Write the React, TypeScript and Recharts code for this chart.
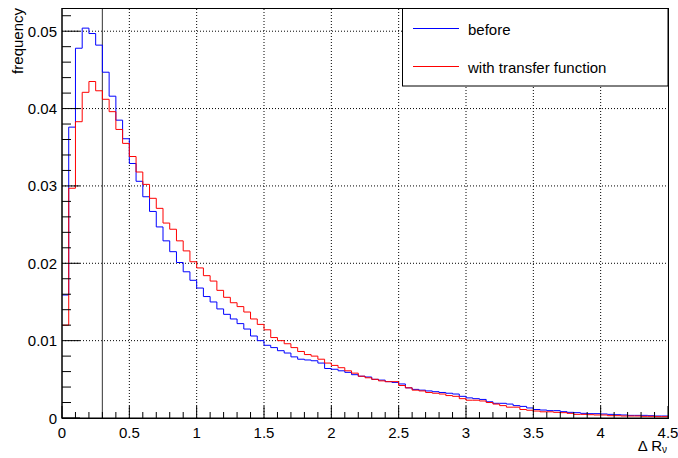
import { LineChart, Line, XAxis, YAxis, ReferenceLine } from "recharts";

// histogram contents, 90 bins of width 0.05 on [0, 4.5]
const BIN_WIDTH = 0.05;
const X_MAX = 4.5;
const Y_MAX = 0.053;

const beforeValues = [
  0.0159, 0.0376, 0.0478, 0.0504, 0.0497, 0.0482, 0.0447, 0.0416, 0.0385, 0.0361,
  0.0329, 0.0306, 0.0286, 0.0267, 0.0247, 0.0229, 0.0215, 0.0201, 0.0189, 0.0178,
  0.0168, 0.0157, 0.015, 0.0141, 0.0134, 0.0128, 0.0122, 0.0115, 0.0106, 0.01,
  0.0094, 0.0091, 0.0087, 0.0084, 0.0079, 0.0076, 0.0075, 0.0074, 0.0071, 0.0064,
  0.0063, 0.0061, 0.0059, 0.0056, 0.0054, 0.0053, 0.005, 0.0049, 0.0047, 0.0046,
  0.0044, 0.0039, 0.0037, 0.0036, 0.0035, 0.0034, 0.0033, 0.0032, 0.0031, 0.0028,
  0.0026, 0.0025, 0.0024, 0.0021, 0.0019, 0.0019, 0.0018, 0.0016, 0.0015, 0.0013,
  0.0011, 0.00103, 0.00095, 0.00095, 0.00082, 0.00073, 0.00069, 0.0006, 0.00056, 0.00056,
  0.00052, 0.00047, 0.00043, 0.00039, 0.00034, 0.00034, 0.00034, 0.0003, 0.00026, 0.00026,
];

const transferValues = [
  0.012, 0.0297, 0.0383, 0.0421, 0.0435, 0.0423, 0.0412, 0.0396, 0.0373, 0.0355,
  0.0338, 0.0318, 0.0302, 0.0284, 0.0271, 0.0252, 0.0244, 0.0229, 0.0216, 0.0202,
  0.0194, 0.0184, 0.0177, 0.0165, 0.0156, 0.0149, 0.0144, 0.0137, 0.0128, 0.0121,
  0.0114, 0.0104, 0.01, 0.0096, 0.0091, 0.0086, 0.0082, 0.008, 0.0076, 0.0071,
  0.0068, 0.0065, 0.0061, 0.0058, 0.0054, 0.0052, 0.005, 0.0048, 0.0047, 0.0047,
  0.0042, 0.0039, 0.0036, 0.0035, 0.0033, 0.0032, 0.0031, 0.0029, 0.0028, 0.0025,
  0.0023, 0.0023, 0.0022, 0.002, 0.0018, 0.0016, 0.0014, 0.0014, 0.0011, 0.001,
  0.0009, 0.0008, 0.0008, 0.00073, 0.00069, 0.0006, 0.00047, 0.00047, 0.00043, 0.00039,
  0.00039, 0.0003, 0.0003, 0.00026, 0.00026, 0.00026, 0.00022, 0.00022, 0.00017, 0.00017,
];

const xMajorTicks = [0, 0.5, 1, 1.5, 2, 2.5, 3, 3.5, 4, 4.5];
const yMajorTicks = [0, 0.01, 0.02, 0.03, 0.04, 0.05];
const X_MINOR_STEPS = 5;
const Y_MINOR_STEPS = 5;
const CUT_VALUE = 0.3;

const round = (v: number) => Math.round(v * 1e6) / 1e6;

// minor ticks between the majors
function withMinor(majors: number[], steps: number, max: number) {
  const out: number[] = [];
  const d = (majors[1] - majors[0]) / steps;
  for (let i = 0; round(i * d) <= max; i++) out.push(round(i * d));
  return out;
}

const xTicks = withMinor(xMajorTicks, X_MINOR_STEPS, X_MAX);
const yTicks = withMinor(yMajorTicks, Y_MINOR_STEPS, Y_MAX);

const data = beforeValues.map((v, i) => ({
  x: round(i * BIN_WIDTH),
  before: v,
  transfer: transferValues[i],
}));
// closing point so the last bin gets its full width
data.push({
  x: X_MAX,
  before: beforeValues[beforeValues.length - 1],
  transfer: transferValues[transferValues.length - 1],
});

const FONT = "'Liberation Sans', Arial, Helvetica, sans-serif";
const W = 678;
const H = 458;
const PLOT = { left: 62, right: 668, top: 8, bottom: 418 };

const isMajor = (v: number, majors: number[]) => majors.some((m) => Math.abs(m - v) < 1e-6);

function XTick(props: any) {
  const { x, y, payload } = props;
  const major = isMajor(payload.value, xMajorTicks);
  return (
    <g>
      <line x1={x} x2={x} y1={y} y2={y - (major ? 12 : 6)} stroke="#000" />
      {major && (
        <text x={x} y={y + 20} textAnchor="middle" fontFamily={FONT} fontSize={15} fill="#000">
          {String(payload.value)}
        </text>
      )}
    </g>
  );
}

function YTick(props: any) {
  const { x, y, payload } = props;
  const major = isMajor(payload.value, yMajorTicks);
  return (
    <g>
      <line x1={x} x2={x + (major ? 18 : 9)} y1={y} y2={y} stroke="#000" />
      {major && (
        <text x={x - 5} y={y} textAnchor="end" dominantBaseline="central" fontFamily={FONT} fontSize={15} fill="#000">
          {String(payload.value)}
        </text>
      )}
    </g>
  );
}

export default function App() {
  return (
    <div style={{ position: "absolute", left: 0, top: 0, width: W, height: H, background: "#fff" }}>
      <LineChart
        width={W}
        height={H}
        data={data}
        margin={{ top: PLOT.top, right: W - PLOT.right, bottom: 0, left: 0 }}
      >
        <XAxis
          dataKey="x"
          type="number"
          domain={[0, X_MAX]}
          ticks={xTicks}
          interval={0}
          tick={<XTick />}
          tickLine={false}
          tickSize={0}
          tickMargin={0}
          height={H - PLOT.bottom}
          axisLine={{ stroke: "#000" }}
        />
        <YAxis
          type="number"
          domain={[0, Y_MAX]}
          ticks={yTicks}
          interval={0}
          tick={<YTick />}
          tickLine={false}
          tickSize={0}
          tickMargin={0}
          width={PLOT.left}
          axisLine={{ stroke: "#000" }}
          allowDataOverflow
        />
        {xMajorTicks.slice(1, -1).map((v) => (
          <ReferenceLine key={`gx${v}`} x={v} stroke="#000" strokeDasharray="1 2" />
        ))}
        {yMajorTicks.slice(1).map((v) => (
          <ReferenceLine key={`gy${v}`} y={v} stroke="#000" strokeDasharray="1 2" />
        ))}
        <ReferenceLine x={CUT_VALUE} stroke="#555" strokeWidth={1.2} />
        <Line
          type="stepAfter"
          dataKey="before"
          stroke="#0000ff"
          strokeWidth={1}
          dot={false}
          isAnimationActive={false}
        />
        <Line
          type="stepAfter"
          dataKey="transfer"
          stroke="#ff0000"
          strokeWidth={1}
          dot={false}
          isAnimationActive={false}
        />
      </LineChart>
      <svg
        width={W}
        height={H}
        style={{ position: "absolute", left: 0, top: 0, pointerEvents: "none" }}
        fontFamily={FONT}
      >
        <rect
          x={PLOT.left}
          y={PLOT.top + 0.5}
          width={PLOT.right - PLOT.left + 0.5}
          height={PLOT.bottom - PLOT.top}
          fill="none"
          stroke="#000"
        />
        {/* legend */}
        <rect x={402.5} y={8.5} width={265.5} height={77.5} fill="#fff" stroke="#000" />
        <line x1={413} x2={459} y1={28.5} y2={28.5} stroke="#0000ff" />
        <text x={468} y={29} dominantBaseline="central" fontSize={15} fill="#000">
          before
        </text>
        <line x1={413} x2={459} y1={66.5} y2={66.5} stroke="#ff0000" />
        <text x={468} y={67} dominantBaseline="central" fontSize={15} fill="#000">
          with transfer function
        </text>
        {/* axis titles */}
        <text
          x={0}
          y={0}
          transform="translate(23,8) rotate(-90)"
          textAnchor="end"
          fontSize={15}
          fill="#000"
        >
          frequency
        </text>
        <text x={667} y={451} textAnchor="end" fontSize={15} fill="#000">
          Δ R
          <tspan fontSize={10} dy={2}>ν</tspan>
        </text>
      </svg>
    </div>
  );
}
